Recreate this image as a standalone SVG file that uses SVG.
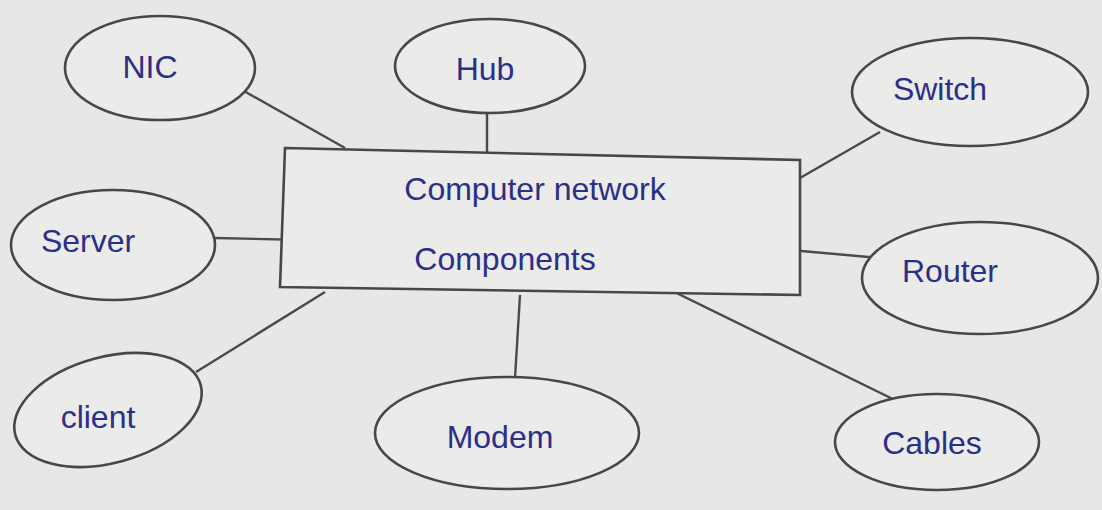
<svg xmlns="http://www.w3.org/2000/svg" width="1102" height="510" viewBox="0 0 1102 510">
<style>
.bg{fill:#e7e7e6}
.fillshape{fill:#ebebea;stroke:#474747;stroke-width:2.6}
.lbl{font-family:"Liberation Sans",Arial,sans-serif;font-size:32px;fill:#2c2f86;text-anchor:middle}
.edge{stroke:#4a4a4a;stroke-width:2.4;fill:none}
</style>
<rect class="bg" x="0" y="0" width="1102" height="510"/>
<g id="connectors">
<line class="edge" x1="235" y1="86" x2="345" y2="148"/>
<line class="edge" x1="487" y1="112" x2="487" y2="152"/>
<line class="edge" x1="800" y1="178" x2="880" y2="132"/>
<line class="edge" x1="215" y1="238" x2="305" y2="240"/>
<line class="edge" x1="790" y1="250" x2="880" y2="258"/>
<line class="edge" x1="196" y1="372" x2="325" y2="292"/>
<line class="edge" x1="520" y1="295" x2="515" y2="378"/>
<line class="edge" x1="650" y1="280" x2="905" y2="405"/>
</g>
<g id="center">
<polygon class="fillshape" points="285,148 800,160 800,295 280,287"/>
<text class="lbl" x="535" y="200">Computer network</text>
<text class="lbl" x="505" y="270">Components</text>
</g>
<g id="nic">
<ellipse class="fillshape" cx="160" cy="68" rx="95" ry="52"/>
<text class="lbl" x="150" y="78">NIC</text>
</g>
<g id="hub">
<ellipse class="fillshape" cx="490" cy="66" rx="95" ry="47"/>
<text class="lbl" x="485" y="80">Hub</text>
</g>
<g id="switch">
<ellipse class="fillshape" cx="970" cy="92" rx="118" ry="54"/>
<text class="lbl" x="940" y="100">Switch</text>
</g>
<g id="server">
<ellipse class="fillshape" cx="113" cy="245" rx="102" ry="55"/>
<text class="lbl" x="88" y="252">Server</text>
</g>
<g id="router">
<ellipse class="fillshape" cx="980" cy="278" rx="118" ry="56"/>
<text class="lbl" x="950" y="282">Router</text>
</g>
<g id="client">
<ellipse class="fillshape" cx="108" cy="410" rx="96" ry="53" transform="rotate(-15 108 410)"/>
<text class="lbl" x="98" y="428">client</text>
</g>
<g id="modem">
<ellipse class="fillshape" cx="507" cy="433" rx="132" ry="56"/>
<text class="lbl" x="500" y="448">Modem</text>
</g>
<g id="cables">
<ellipse class="fillshape" cx="937" cy="442" rx="102" ry="48"/>
<text class="lbl" x="932" y="454">Cables</text>
</g>
</svg>
